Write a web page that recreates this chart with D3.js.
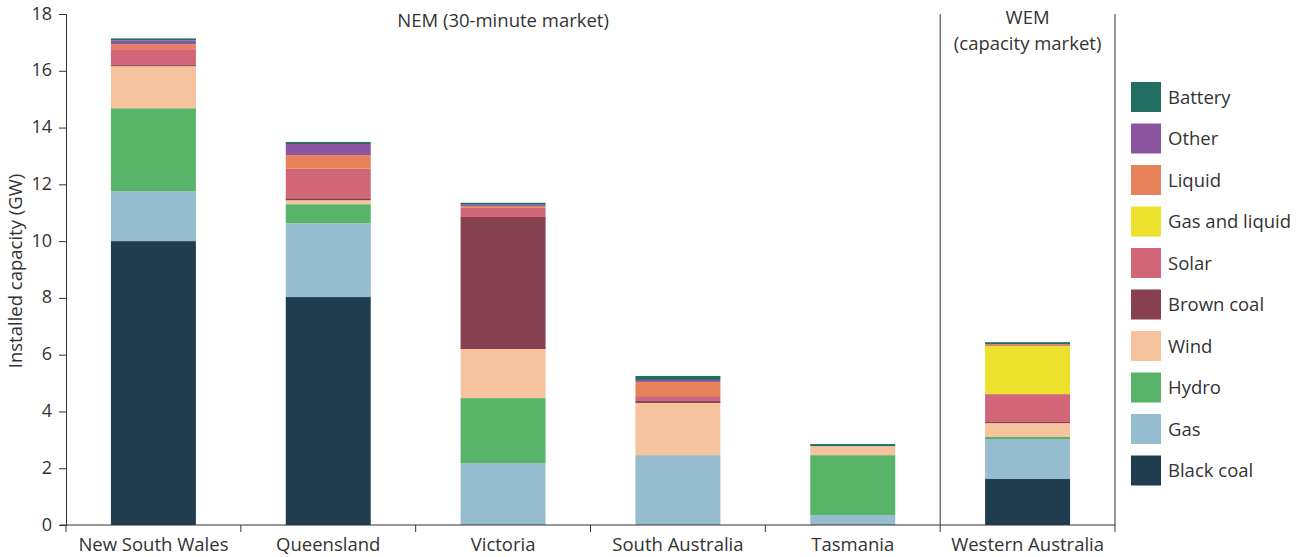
<!DOCTYPE html>
<html><head><meta charset="utf-8">
<script src="https://cdn.jsdelivr.net/npm/d3@7"></script>
<style>
body{margin:0;background:#fff;}
text{font-family:"Open Sans",sans-serif;fill:#333;}
</style></head>
<body><svg id="c" width="1303" height="557"></svg>
<script>
const categories = ["New South Wales","Queensland","Victoria","South Australia","Tasmania","Western Australia"];
const seriesNames = ["Black coal","Gas","Hydro","Wind","Brown coal","Solar","Gas and liquid","Liquid","Other","Battery"];
const blackCoal   = [10.0, 8.03, 0,    0,    0,    1.62];
const gas         = [1.76, 2.60, 2.18, 2.46, 0.35, 1.41];
const hydro       = [2.92, 0.67, 2.29, 0,    2.11, 0.07];
const wind        = [1.48, 0.14, 1.73, 1.84, 0.32, 0.49];
const brownCoal   = [0.04, 0.07, 4.65, 0.07, 0,    0.04];
const solar       = [0.56, 1.04, 0.34, 0.17, 0,    0.98];
const gasLiquid   = [0,    0,    0,    0,    0,    1.69];
const liquid      = [0.17, 0.48, 0.05, 0.50, 0,    0.07];
const other       = [0.14, 0.39, 0.04, 0.07, 0,    0];
const battery     = [0.07, 0.07, 0.07, 0.14, 0.07, 0.07];
const yTicks = [0,2,4,6,8,10,12,14,16,18];
const colors = ["#203d4f","#95bccf","#58b468","#f5c49e","#86404f","#d06677","#ece22e","#e8825a","#8c55a0","#236e62"];
const seriesValues = [blackCoal,gas,hydro,wind,brownCoal,solar,gasLiquid,liquid,other,battery];

const rows = categories.map((c,i)=>{const r={cat:c}; seriesNames.forEach((s,j)=>r[s]=seriesValues[j][i]); return r;});
const stack = d3.stack().keys(seriesNames)(rows);

const svg = d3.select("#c");
const x = d3.scaleBand().domain(categories).range([66,1115]).paddingInner(0.514).paddingOuter(0.257);
const y = d3.scaleLinear().domain([0,18]).range([525,14]);
const color = d3.scaleOrdinal().domain(seriesNames).range(colors);
const FF = "Open Sans, sans-serif";
const FS = "18.5px";

svg.append("g").selectAll("g").data(stack).join("g").attr("fill",d=>color(d.key))
  .selectAll("rect").data(d=>d).join("rect")
  .attr("x",d=>x(d.data.cat)).attr("width",x.bandwidth())
  .attr("y",d=>y(d[1])).attr("height",d=>Math.max(0,y(d[0])-y(d[1])));

// y axis
const ya = svg.append("g").attr("transform","translate(66,0)")
  .call(d3.axisLeft(y).tickValues(yTicks).tickSize(7).tickPadding(7));
ya.select(".domain").attr("stroke","#333");
ya.selectAll(".tick line").attr("stroke","#333");
ya.selectAll("text").style("font-size","18px").attr("fill","#333").attr("font-family",FF).attr("dy","0.28em");

// x axis
const xa = svg.append("g").attr("transform","translate(0,525)")
  .call(d3.axisBottom(x).tickSize(0).tickPadding(13));
xa.select(".domain").remove();
xa.selectAll("text").style("font-size",FS).attr("fill","#333").attr("font-family",FF);
svg.append("line").attr("x1",60).attr("x2",1115).attr("y1",525).attr("y2",525).attr("stroke","#333");
const gap = (x.step()-x.bandwidth())/2;
const bounds = categories.map(c=>x(c)-gap).concat([x(categories[categories.length-1])+x.bandwidth()+gap]);
svg.append("g").selectAll("line").data(bounds).join("line")
  .attr("x1",d=>d).attr("x2",d=>d).attr("y1",525).attr("y2",532).attr("stroke","#333");

// separators
const sepX = x(categories[5]) - gap;
svg.append("line").attr("x1",sepX).attr("x2",sepX).attr("y1",y(18)).attr("y2",525).attr("stroke","#333");
const rightX = bounds[bounds.length-1];
svg.append("line").attr("x1",rightX).attr("x2",rightX).attr("y1",y(18)).attr("y2",525).attr("stroke","#333");

// annotations
const nemX = (x(categories[0])-gap + sepX)/2;
svg.append("text").attr("x",nemX).attr("y",27).attr("text-anchor","middle").style("font-size",FS).text("NEM (30-minute market)");
const wemX = x(categories[5])+x.bandwidth()/2;
svg.append("text").attr("x",wemX).attr("y",24).attr("text-anchor","middle").style("font-size",FS).text("WEM");
svg.append("text").attr("x",wemX).attr("y",50).attr("text-anchor","middle").style("font-size",FS).text("(capacity market)");

// y title
svg.append("text").attr("transform","translate(22,271) rotate(-90)").attr("text-anchor","middle").style("font-size",FS).text("Installed capacity (GW)");

// legend
const legendOrder = seriesNames.slice().reverse();
const lg = svg.append("g").selectAll("g").data(legendOrder).join("g")
  .attr("transform",(d,i)=>`translate(1131,${82+i*41.5})`);
lg.append("rect").attr("width",30).attr("height",30).attr("fill",d=>color(d));
lg.append("text").attr("x",37).attr("y",21.5).style("font-size",FS).text(d=>d);
</script></body></html>
